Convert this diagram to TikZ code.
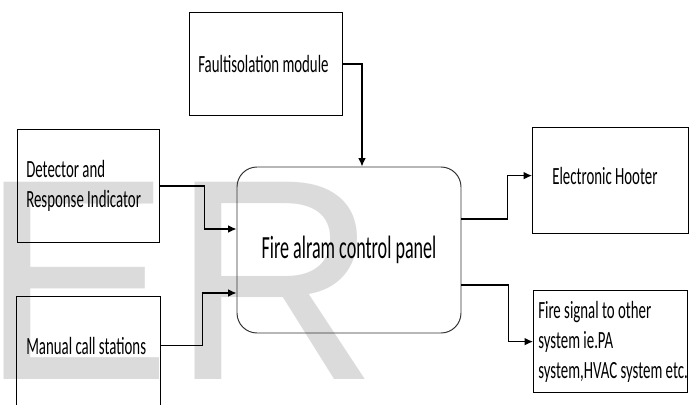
\documentclass[tikz,border=0pt]{standalone}
\usepackage{fontspec}
\usetikzlibrary{positioning, arrows.meta}

\newfontfamily\blockfont[FakeStretch = 0.6]{Carlito}
\newfontfamily\panelfont[FakeStretch = 0.56]{Carlito}
\newfontfamily\markfont{Liberation Sans}

\tikzset{
	block/.style = {draw, line width = 0.9pt, anchor = north west, inner sep = 0},
	blocktext/.style = {inner sep = 0, align = left, font = \blockfont\fontsize{17.6}{21.5}\selectfont},
	link/.style = {->, line width = 0.9pt}
}

\begin{document}
\begin{tikzpicture}[> = {Latex[length = 6pt, width = 5.5pt]}]

\useasboundingbox (0, 0) rectangle (17.35, 10.1);
\clip (0, 0) rectangle (17.35, 10.1);

% Watermark

\node [anchor = base west, inner sep = 0, text = black!14, font = \markfont\fontsize{204}{204}\selectfont] (mark) at (-0.5, 0.625) {ER};

% Control panel

\node [draw = black!80, line width = 0.7pt, rounded corners = 0.5cm, minimum width = 5.6cm, minimum height = 4.15cm,
	font = \panelfont\fontsize{23}{27}\selectfont] (panel) at (8.725, 3.85) {Fire alram control panel};

% Input blocks

\node [block, minimum width = 3.825cm, minimum height = 2.575cm] (fault) at (4.725, 9.8) {};
\node [blocktext, right = 0.225cm of fault.west] (fault text) {Faultisolation module};

\node [block, minimum width = 3.55cm, minimum height = 2.825cm] (detector) at (0.425, 6.875) {};
\node [blocktext, right = 0.225cm of detector.west] (detector text) {Detector and\\Response Indicator};

\node [block, minimum width = 3.6cm, minimum height = 2.9cm] (manual) at (0.4, 2.7) {};
\node [blocktext, right = 0.25cm of manual.west, yshift = 0.225cm] (manual text) {Manual call stations};

% Output blocks

\node [block, minimum width = 3.9cm, minimum height = 2.65cm] (hooter) at (13.3, 6.925) {};
\node [blocktext, right = 0.5cm of hooter.west, yshift = 0.125cm] (hooter text) {Electronic Hooter};

\node [block, minimum width = 3.85cm, minimum height = 2.55cm] (signal) at (13.325, 2.85) {};
\node [blocktext, right = 0.125cm of signal.west] (signal text) {Fire signal to other\\system ie.PA\\system,HVAC system etc.};

% Connection points on the panel

\coordinate (fault in) at ([xshift = 0.325cm] panel.north);
\coordinate (detector in) at ([yshift = 0.525cm] panel.west);
\coordinate (manual in) at ([yshift = -1.075cm] panel.west);
\coordinate (hooter out) at ([yshift = 0.775cm] panel.east);
\coordinate (signal out) at ([yshift = -0.875cm] panel.east);

% Connectors

\draw [link] (fault.east) -| (fault in);
\draw [link] (detector.east) -- ++(1.1, 0) |- (detector in);
\draw [link] (manual text -| manual.east) -- ++(1.025, 0) |- (manual in);
\draw [link] (hooter out) -- ++(1.15, 0) |- (hooter text -| hooter.west);
\draw [link] (signal out) -- ++(1.175, 0) |- (signal.west);

\end{tikzpicture}
\end{document}
